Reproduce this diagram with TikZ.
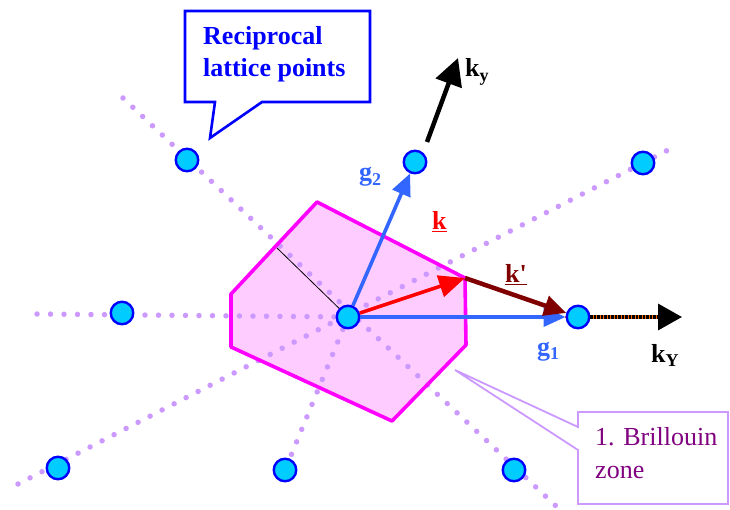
\documentclass[tikz,border=0pt]{standalone}
\usepackage{fontspec}
\setmainfont{Liberation Serif}
\newfontfamily\rawserif[Ligatures=TeXOff]{Liberation Serif}
\usetikzlibrary{arrows.meta,backgrounds}
\definecolor{lilac}{HTML}{CC99FF}
\definecolor{ptcyan}{HTML}{00CCFF}
\definecolor{ptblue}{HTML}{0000FF}
\definecolor{zonefill}{HTML}{FFCCFF}
\definecolor{zoneedge}{HTML}{FF00FF}
\definecolor{gblue}{HTML}{3366FF}
\definecolor{kred}{HTML}{FF0000}
\definecolor{kmaroon}{HTML}{800000}
\definecolor{zonetext}{HTML}{800080}
\definecolor{dotorange}{HTML}{FF6600}
\newcommand\mysub[1]{\raisebox{-0.35ex}{\fontsize{18}{18}\selectfont #1}}
\tikzset{
  latpt/.style={circle, draw=ptblue, fill=ptcyan, line width=2.4pt, minimum size=22.5pt, inner sep=0pt},
  dotline/.style={draw=lilac, line width=5.5pt, line cap=round, dash pattern=on 0pt off 13.5pt},
  garrow/.style={draw=gblue, line width=3.6pt, -{Triangle[length=22pt,width=19pt]}},
  lbl/.style={inner sep=0pt, anchor=base west, font=\bfseries\fontsize{26}{26}\selectfont},
}
\begin{document}
\begin{tikzpicture}[x=1pt,y=-1pt]
\useasboundingbox (0,0) rectangle (730,510);
% lattice points
\node[latpt] (C) at (348,317) {};
\node[latpt] (P10) at (578,317) {};
\node[latpt] (Pm10) at (122,313) {};
\node[latpt] (P01) at (415,162) {};
\node[latpt] (Pm11) at (187,160) {};
\node[latpt] (P11) at (643,163) {};
\node[latpt] (P0m1) at (285,470) {};
\node[latpt] (Pm1m1) at (58,468) {};
\node[latpt] (P1m1) at (514,470) {};
% zone corners and line ends
\coordinate (H1) at (317,202);
\coordinate (H2) at (465,278);
\coordinate (H3) at (466,345);
\coordinate (H4) at (392,421);
\coordinate (H5) at (231,347);
\coordinate (H6) at (231,294);
\coordinate (La) at (37,314);
\coordinate (Lb1) at (123,98);
\coordinate (Lb2) at (557,507);
\coordinate (Lc1) at (18,484);
\coordinate (Lc2) at (672,148);
\coordinate (BZe) at (277,248);
\coordinate (KX) at (682,317);
\coordinate (KXo) at (662,317);
\coordinate (KYtop) at (458,58);
\coordinate (KYtail) at (427,142);
\begin{scope}[on background layer]
  \fill[zonefill] (H1) -- (H2) -- (H3) -- (H4) -- (H5) -- (H6) -- cycle;
  \draw[dotline] (La) -- (C.center);
  \draw[dotline] (Lb1) -- (Lb2);
  \draw[dotline] (Lc1) -- (Lc2);
  \draw[dotline] (C.center) -- (P0m1.center);
  \draw[zoneedge, line width=3.6pt, line join=round] (H1) -- (H2) -- (H3) -- (H4) -- (H5) -- (H6) -- cycle;
  \draw[dotorange, line width=1.2pt, dash pattern=on 1.5pt off 2pt] (C.center) -- (P10.center);
\end{scope}
% thin radius to zone edge
\draw[black, line width=0.8pt] (BZe) -- (C);
% axis arrows
\draw[black, line width=4.5pt, -{Triangle[length=27pt,width=27pt]}] (KYtail) -- (KYtop);
\draw[dotorange, line width=3.5pt] (P10.east) -- (KXo);
\draw[black, line width=3.5pt, dash pattern=on 2.5pt off 1pt, -{Triangle[length=24pt,width=26pt]}] (P10.east) -- (KX);
% vectors
\draw[garrow] (C) -- (P01);
\draw[garrow] (C) -- (P10);
\draw[draw=kmaroon, line width=4.5pt, -{Triangle[length=22pt,width=20pt]}] (H2) -- (P10);
\draw[draw=kred, line width=3.5pt, -{Triangle[length=26pt,width=22pt]}] (C) -- (H2);
% labels
\node[lbl, text=gblue] (g2lbl) at (359,181) {g\mysub{2}};
\node[lbl, text=gblue] (g1lbl) at (537,355) {g\mysub{1}};
\node[lbl, text=kred] (klbl) at (432,230) {\underline{k}};
\node[lbl, text=kmaroon] (kplbl) at (505,283) {\underline{k{\rawserif\bfseries '}}};
\node[lbl, text=black] (kytop) at (465,77) {k\mysub{y}};
\node[lbl, text=black] (kxlbl) at (651,362) {k\mysub{Y}};
% callout: reciprocal lattice points
\coordinate (T1) at (210,138);
\draw[ptblue, line width=2.6pt, fill=white] (185,11) -- (370,11) -- (370,102) -- (262,102) -- (T1) -- (215,102) -- (185,102) -- cycle;
\node[lbl, text=ptblue] (rl1) at (203,45) {Reciprocal};
\node[lbl, text=ptblue] (rl2) at (203,77) {lattice points};
% callout: Brillouin zone
\coordinate (T2) at (455,370);
\draw[lilac, line width=1.8pt, fill=white] (578,450) -- (578,504) -- (728,504) -- (728,412) -- (578,412) -- (578,427) -- (T2) -- cycle;
\node[lbl, font=\fontsize{26}{26}\selectfont, text=zonetext] (bz1) at (595,445) {1. Brillouin};
\node[lbl, font=\fontsize{26}{26}\selectfont, text=zonetext] (bz2) at (595,478) {zone};
\end{tikzpicture}
\end{document}
